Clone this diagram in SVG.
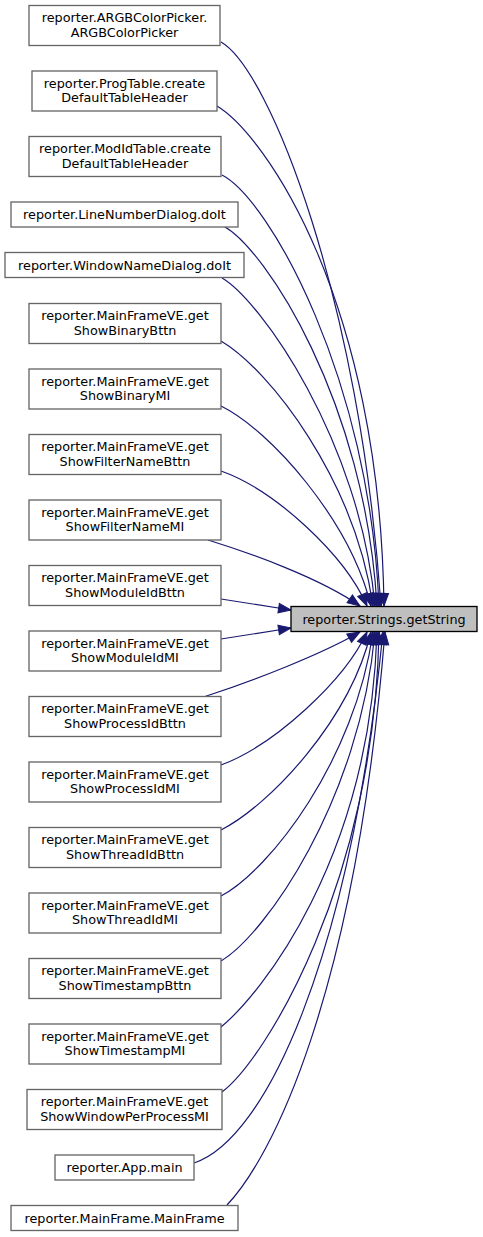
<svg xmlns="http://www.w3.org/2000/svg" width="483" height="1237" viewBox="0 0 483 1237">
<style>
.n rect{fill:#ffffff;stroke:#666666;stroke-width:1.33}
.t rect{fill:#bfbfbf;stroke:#000000;stroke-width:1.33}
text{font-family:"DejaVu Sans","Liberation Sans",sans-serif;font-size:12.8px;fill:#000;text-anchor:middle}
.e path{fill:none;stroke:#191970;stroke-width:1.2;marker-end:url(#ah)}
</style>
<defs>
<marker id="ah" markerUnits="userSpaceOnUse" markerWidth="14" markerHeight="11" refX="12.5" refY="4.75" orient="auto" overflow="visible">
<path d="M0,0 L12.5,4.75 L0,9.5 Z" fill="#191970" stroke="#191970" stroke-width="1"/>
</marker>
</defs>
<rect width="483" height="1237" fill="#ffffff"/>
<g id="edges" class="e">
<path d="M221,42 C270,70 360,300 381,606"/>
<path d="M217,106 C265,135 380,300 384,606"/>
<path d="M222,175 C270,200 370,380 379,606"/>
<path d="M225,227 C265,250 365,400 377,606"/>
<path d="M222,278 C260,300 360,440 375,606"/>
<path d="M221,341 C270,370 355,480 373,606"/>
<path d="M221,406 C270,430 350,520 371,606"/>
<path d="M221,471 C275,490 345,555 367,606"/>
<path d="M208,540 C250,553 320,578 360,606"/>
<path d="M221,599 C240,602 265,606 291,610"/>
<path d="M221,639 C240,636 265,632 291,628"/>
<path d="M205,696.5 C255,680 320,655 360,632"/>
<path d="M221,765 C275,745 345,680 367,632"/>
<path d="M221,830 C270,805 350,720 371,632"/>
<path d="M221,896 C270,870 355,760 373,632"/>
<path d="M221,961 C265,935 360,800 375,632"/>
<path d="M221,1027 C260,995 370,860 377,632"/>
<path d="M222,1092 C265,1060 375,880 379,632"/>
<path d="M194,1163 C265,1140 350,960 383,632"/>
<path d="M227,1205 C270,1160 355,1000 385,632"/>
</g>
<g id="target" class="t"><rect x="291" y="606.5" width="186" height="25"/><text x="384" y="623.5">reporter.Strings.getString</text></g>
<g id="n1" class="n"><rect x="29" y="5.5" width="191" height="40"/><text x="124.5" y="22">reporter.ARGBColorPicker.</text><text x="124.5" y="36.5">ARGBColorPicker</text></g>
<g id="n2" class="n"><rect x="32" y="71" width="185" height="40"/><text x="124.5" y="87.5">reporter.ProgTable.create</text><text x="124.5" y="102">DefaultTableHeader</text></g>
<g id="n3" class="n"><rect x="29" y="136.5" width="192" height="40"/><text x="125" y="153">reporter.ModIdTable.create</text><text x="125" y="167.5">DefaultTableHeader</text></g>
<g id="n4" class="n"><rect x="11" y="202" width="227" height="25"/><text x="124.5" y="219.3">reporter.LineNumberDialog.doIt</text></g>
<g id="n5" class="n"><rect x="5" y="252.5" width="239" height="25"/><text x="124.5" y="269.8">reporter.WindowNameDialog.doIt</text></g>
<g id="n6" class="n"><rect x="29" y="303.5" width="192" height="40"/><text x="125" y="320">reporter.MainFrameVE.get</text><text x="125" y="334.5">ShowBinaryBttn</text></g>
<g id="n7" class="n"><rect x="29" y="369" width="192" height="40"/><text x="125" y="385.5">reporter.MainFrameVE.get</text><text x="125" y="400">ShowBinaryMI</text></g>
<g id="n8" class="n"><rect x="29" y="434.5" width="192" height="40"/><text x="125" y="451">reporter.MainFrameVE.get</text><text x="125" y="465.5">ShowFilterNameBttn</text></g>
<g id="n9" class="n"><rect x="29" y="500" width="192" height="40"/><text x="125" y="516.5">reporter.MainFrameVE.get</text><text x="125" y="531">ShowFilterNameMI</text></g>
<g id="n10" class="n"><rect x="29" y="565.5" width="192" height="40"/><text x="125" y="582">reporter.MainFrameVE.get</text><text x="125" y="596.5">ShowModuleIdBttn</text></g>
<g id="n11" class="n"><rect x="29" y="631" width="192" height="40"/><text x="125" y="647.5">reporter.MainFrameVE.get</text><text x="125" y="662">ShowModuleIdMI</text></g>
<g id="n12" class="n"><rect x="29" y="696.5" width="192" height="40"/><text x="125" y="713">reporter.MainFrameVE.get</text><text x="125" y="727.5">ShowProcessIdBttn</text></g>
<g id="n13" class="n"><rect x="29" y="762" width="192" height="40"/><text x="125" y="778.5">reporter.MainFrameVE.get</text><text x="125" y="793">ShowProcessIdMI</text></g>
<g id="n14" class="n"><rect x="29" y="827.5" width="192" height="40"/><text x="125" y="844">reporter.MainFrameVE.get</text><text x="125" y="858.5">ShowThreadIdBttn</text></g>
<g id="n15" class="n"><rect x="29" y="893" width="192" height="40"/><text x="125" y="909.5">reporter.MainFrameVE.get</text><text x="125" y="924">ShowThreadIdMI</text></g>
<g id="n16" class="n"><rect x="29" y="958.5" width="192" height="40"/><text x="125" y="975">reporter.MainFrameVE.get</text><text x="125" y="989.5">ShowTimestampBttn</text></g>
<g id="n17" class="n"><rect x="29" y="1024" width="192" height="40"/><text x="125" y="1040.5">reporter.MainFrameVE.get</text><text x="125" y="1055">ShowTimestampMI</text></g>
<g id="n18" class="n"><rect x="27" y="1089.5" width="195" height="40"/><text x="124.5" y="1106">reporter.MainFrameVE.get</text><text x="124.5" y="1120.5">ShowWindowPerProcessMI</text></g>
<g id="n19" class="n"><rect x="55" y="1155" width="139" height="25"/><text x="124.5" y="1172.3">reporter.App.main</text></g>
<g id="n20" class="n"><rect x="11" y="1205.5" width="227" height="25"/><text x="124.5" y="1222.8">reporter.MainFrame.MainFrame</text></g>
</svg>
